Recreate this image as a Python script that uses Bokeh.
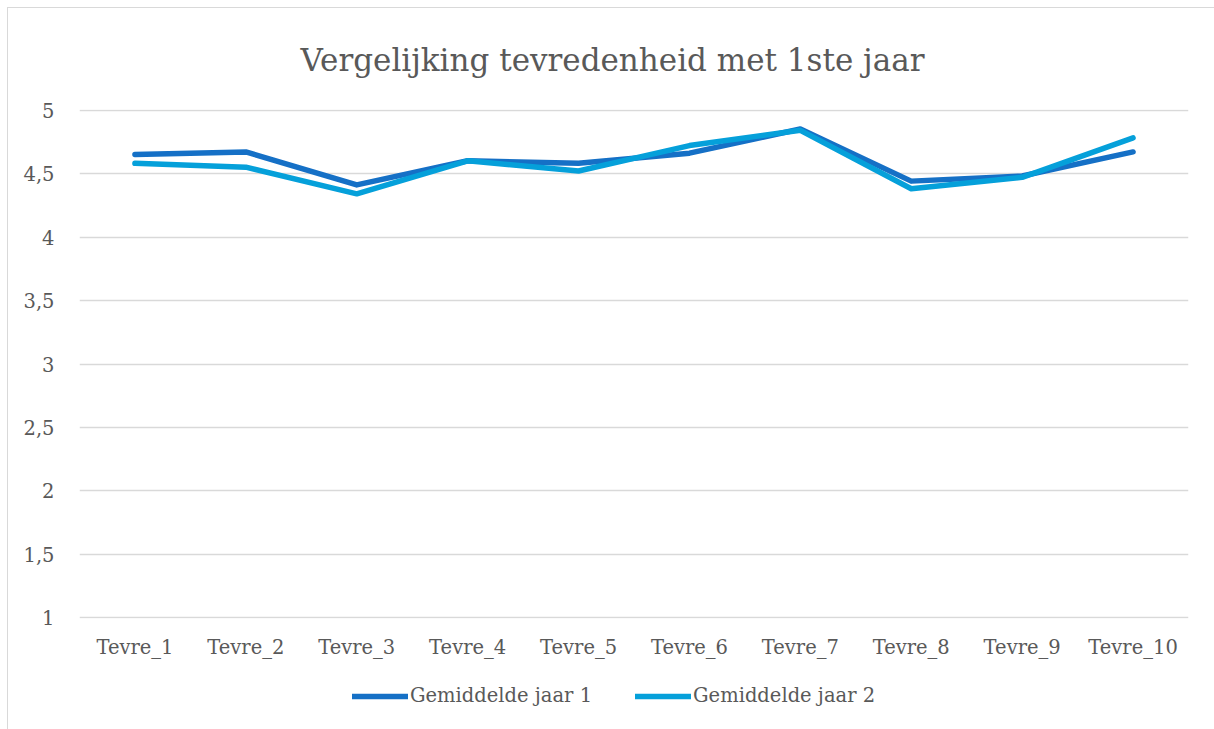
from bokeh.plotting import figure
from bokeh.layouts import column
from bokeh.models import Legend, LegendItem, FixedTicker, CustomJSTickFormatter, Title
from bokeh.embed import file_html
from bokeh.resources import INLINE

categories = ["Tevre_1", "Tevre_2", "Tevre_3", "Tevre_4", "Tevre_5",
              "Tevre_6", "Tevre_7", "Tevre_8", "Tevre_9", "Tevre_10"]
jaar1 = [4.65, 4.67, 4.41, 4.60, 4.58, 4.66, 4.85, 4.44, 4.48, 4.67]
jaar2 = [4.58, 4.55, 4.34, 4.60, 4.52, 4.72, 4.84, 4.38, 4.47, 4.78]
y_ticks = [1, 1.5, 2, 2.5, 3, 3.5, 4, 4.5, 5]
title_text = "Vergelijking tevredenheid met 1ste jaar"
series_names = ["Gemiddelde jaar 1", "Gemiddelde jaar 2"]

FONT = "DejaVu Serif"
TXT = "#595959"
GRID = "#D9D9D9"
C1 = "#1570C6"
C2 = "#05A0DA"

p = figure(frame_width=1109, frame_height=509, x_range=categories, y_range=(0.996, 5.004),
           output_backend="svg", toolbar_location=None,
           min_border_left=71, min_border_right=26, min_border_top=97,
           min_border_bottom=55)

t = Title(text=title_text, align="left", text_font=FONT, text_font_size="31px",
          text_color=TXT, text_font_style="normal", offset=221, standoff=63)
p.add_layout(t, "above")

r1 = p.line(categories, jaar1, line_color=C1, line_width=5.5, line_cap="round", line_join="round")
r2 = p.line(categories, jaar2, line_color=C2, line_width=5.5, line_cap="round", line_join="round")

p.outline_line_color = None
p.xgrid.grid_line_color = None
p.ygrid.grid_line_color = GRID
p.ygrid.grid_line_width = 1.3

p.yaxis.ticker = FixedTicker(ticks=y_ticks)
p.yaxis.formatter = CustomJSTickFormatter(code="return tick.toString().replace('.', ',');")
for ax in (p.xaxis[0], p.yaxis[0]):
    ax.axis_line_color = None
    ax.major_tick_line_color = None
    ax.minor_tick_line_color = None
    ax.major_label_text_font = FONT
    ax.major_label_text_font_size = "19.5px"
    ax.major_label_text_color = TXT
p.yaxis.major_label_standoff = 19
p.xaxis.major_label_standoff = 11
p.x_range.range_padding = 0

# legend strip below the chart (hidden copies of the series provide the legend glyphs)
p2 = figure(width=1206, height=59, x_range=categories, y_range=(1, 5),
            output_backend="svg", toolbar_location=None, min_border=0)
p2.axis.visible = False
p2.grid.grid_line_color = None
p2.outline_line_color = None
l1 = p2.line(categories, jaar1, line_color=C1, line_width=5.5, line_cap="round", visible=False)
l2 = p2.line(categories, jaar2, line_color=C2, line_width=5.5, line_cap="round", visible=False)

legend = Legend(items=[LegendItem(label=series_names[0], renderers=[l1]),
                       LegendItem(label=series_names[1], renderers=[l2])],
                orientation="horizontal", location=(273, 25),
                label_text_font=FONT, label_text_font_size="19.5px",
                label_text_color=TXT, glyph_width=56, glyph_height=20,
                label_standoff=2, spacing=43, border_line_color=None,
                padding=0, margin=0, background_fill_alpha=0,
                inactive_fill_alpha=0)
p2.add_layout(legend, "center")

layout = column(p, p2, spacing=0)
layout.margin = (7, 0, 0, 7)
layout.styles = {"border-top": "1px solid #D9D9D9", "border-left": "1px solid #D9D9D9"}

open("out.html", "w").write(file_html(layout, INLINE))
